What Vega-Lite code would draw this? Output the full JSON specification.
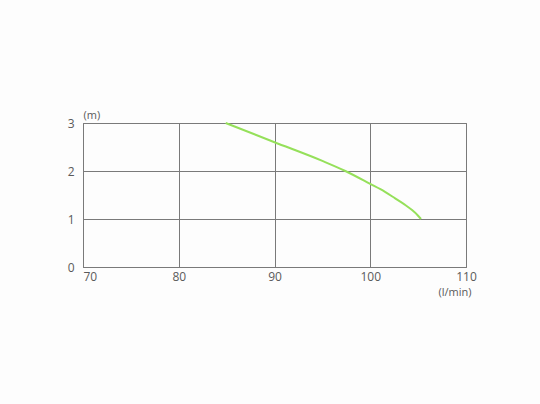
{
  "$schema": "https://vega.github.io/schema/vega-lite/v6.json",
  "autosize": {"type": "none"},
  "padding": {"left": 83, "top": 123, "right": 74, "bottom": 137},
  "width": 383,
  "height": 144,
  "background": "#fdfdfd",
  "config": {
    "view": {"stroke": "#7a7a7a", "strokeWidth": 1},
    "font": "Open Sans",
    "axis": {
      "labelFont": "Open Sans",
      "titleFont": "Open Sans",
      "labelColor": "#5a5a5a",
      "titleColor": "#5a5a5a",
      "labelFontSize": 12,
      "titleFontSize": 11,
      "titleFontWeight": "normal",
      "gridColor": "#7a7a7a",
      "gridOpacity": 1,
      "gridWidth": 1,
      "domainColor": "#7a7a7a",
      "ticks": false
    }
  },
  "data": {
    "values": [
      {"flow": 84.9, "head": 3.0},
      {"flow": 90.0, "head": 2.6},
      {"flow": 95.0, "head": 2.21},
      {"flow": 97.4, "head": 2.0},
      {"flow": 100.0, "head": 1.73},
      {"flow": 101.5, "head": 1.57},
      {"flow": 102.6, "head": 1.43},
      {"flow": 103.6, "head": 1.3},
      {"flow": 104.4, "head": 1.18},
      {"flow": 104.9, "head": 1.09},
      {"flow": 105.3, "head": 1.0}
    ]
  },
  "mark": {"type": "line", "color": "#95e05a", "strokeWidth": 2, "interpolate": "monotone"},
  "encoding": {
    "x": {
      "field": "flow",
      "type": "quantitative",
      "scale": {"domain": [70, 110], "nice": false},
      "axis": {
        "values": [70, 80, 90, 100, 110],
        "labelPadding": 4,
        "labelAlign": {"condition": {"test": "datum.value == 70", "value": "left"}, "value": "center"},
        "title": "(l/min)",
        "titleX": 388,
        "titleY": 25,
        "titleAlign": "right",
        "titleBaseline": "middle"
      }
    },
    "y": {
      "field": "head",
      "type": "quantitative",
      "scale": {"domain": [0, 3], "nice": false},
      "axis": {
        "values": [0, 1, 2, 3],
        "labelPadding": 9,
        "title": "(m)",
        "titleAngle": 0,
        "titleX": 0,
        "titleY": -8,
        "titleAlign": "left",
        "titleBaseline": "middle"
      }
    }
  }
}
